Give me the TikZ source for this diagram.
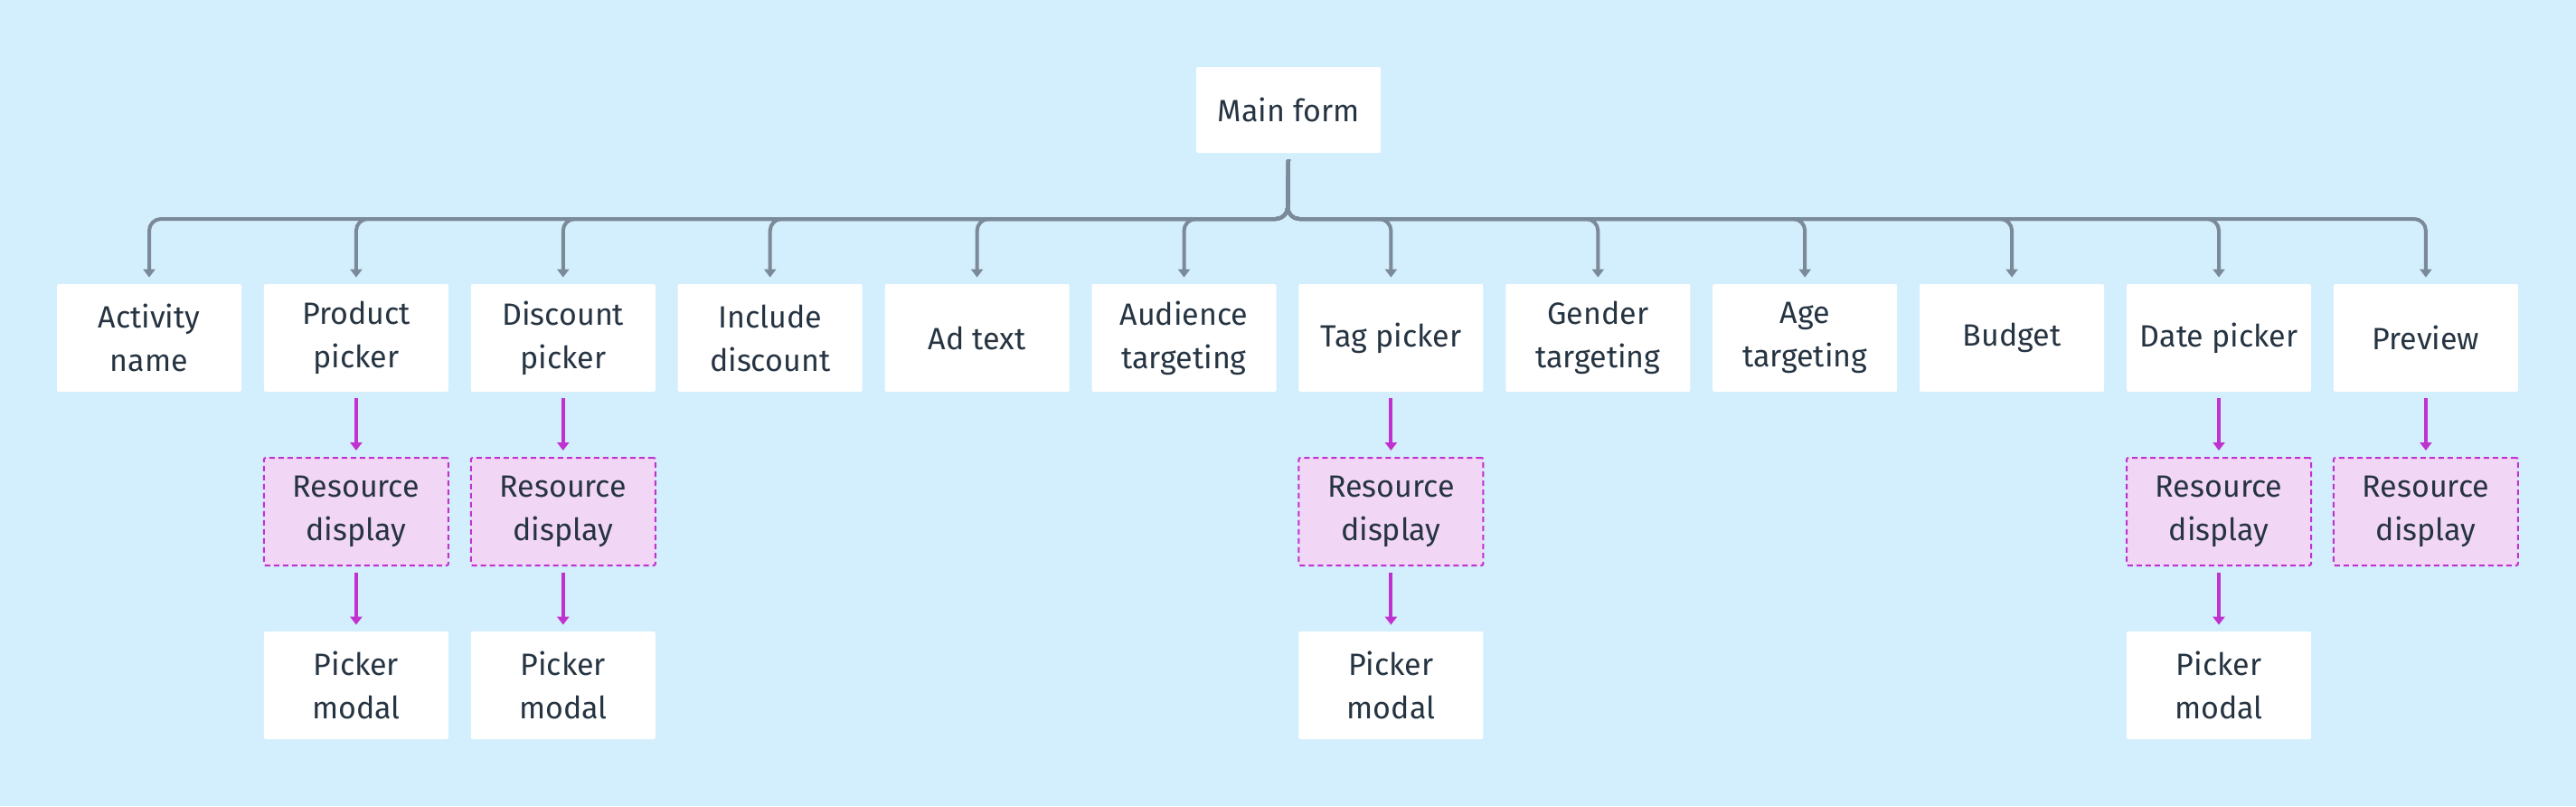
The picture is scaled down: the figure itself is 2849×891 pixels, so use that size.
\documentclass[tikz,border=0pt]{standalone}
\usepackage{fontspec}
\setmainfont{Fira Sans}
\usetikzlibrary{arrows.meta}
\definecolor{bgblue}{RGB}{211,238,252}
\definecolor{linegray}{RGB}{123,138,153}
\definecolor{resmagenta}{RGB}{192,50,208}
\definecolor{resfill}{RGB}{242,214,245}
\definecolor{textdark}{RGB}{38,52,66}
\tikzstyle{block} = [rectangle, fill=white, rounded corners=1pt, text=textdark,
    align=center, minimum width=102pt, minimum height=59.5pt, inner sep=0pt,
    font=\fontsize{17}{24}\selectfont]
\tikzstyle{resblock} = [block, fill=resfill, draw=resmagenta, line width=1pt,
    dash pattern=on 3pt off 2pt]
\tikzstyle{line} = [draw=linegray, line width=2pt, rounded corners=6.5pt,
    -{Triangle[width=6.5pt,length=4.5pt]}, shorten >=3.5pt]
\tikzstyle{resline} = [draw=resmagenta, line width=2pt,
    -{Triangle[width=6.5pt,length=4.5pt]}, shorten >=3.5pt, shorten <=3.5pt]
\begin{document}
\begin{tikzpicture}[x=0.5pt, y=-0.5pt, node distance=114.45pt]
\fill[bgblue] (0,0) rectangle (2849,891);
\useasboundingbox (0,0) rectangle (2849,891);
    % Place nodes
\node[block, minimum height=47.5pt] (main) at (1425,121.5) {Main form};
\node[block] (act) at (165,373.5) {Activity\\name};
\node[block, right of=act] (prod) {Product\\picker};
\node[block, right of=prod] (disc) {Discount\\picker};
\node[block, right of=disc] (incl) {Include\\discount};
\node[block, right of=incl] (adtext) {Ad text};
\node[block, right of=adtext] (aud) {Audience\\targeting};
\node[block, right of=aud] (tag) {Tag picker};
\node[block, right of=tag] (gender) {Gender\\targeting};
\node[block, right of=gender] (age) {Age\\targeting};
\node[block, right of=age] (budget) {Budget};
\node[block, right of=budget] (date) {Date picker};
\node[block, right of=date] (prev) {Preview};

\node[resblock, below of=prod, node distance=96pt] (prodres) {Resource\\display};
\node[resblock, below of=disc, node distance=96pt] (discres) {Resource\\display};
\node[resblock, below of=tag, node distance=96pt] (tagres) {Resource\\display};
\node[resblock, below of=date, node distance=96pt] (dateres) {Resource\\display};
\node[resblock, below of=prev, node distance=96pt] (prevres) {Resource\\display};

\node[block, below of=prodres, node distance=96pt] (prodmod) {Picker\\modal};
\node[block, below of=discres, node distance=96pt] (discmod) {Picker\\modal};
\node[block, below of=tagres, node distance=96pt] (tagmod) {Picker\\modal};
\node[block, below of=dateres, node distance=96pt] (datemod) {Picker\\modal};

\coordinate (trunk) at ([yshift=-3.5pt]main.south);
\coordinate (bus) at (1424,242);

    % Draw edges
\path [line] (trunk) -- (bus) -| (act);
\path [line] (trunk) -- (bus) -| (prod);
\path [line] (trunk) -- (bus) -| (disc);
\path [line] (trunk) -- (bus) -| (incl);
\path [line] (trunk) -- (bus) -| (adtext);
\path [line] (trunk) -- (bus) -| (aud);
\path [line] (trunk) -- (bus) -| (tag);
\path [line] (trunk) -- (bus) -| (gender);
\path [line] (trunk) -- (bus) -| (age);
\path [line] (trunk) -- (bus) -| (budget);
\path [line] (trunk) -- (bus) -| (date);
\path [line] (trunk) -- (bus) -| (prev);

\path [resline] (prod) -- (prodres);
\path [resline] (disc) -- (discres);
\path [resline] (tag) -- (tagres);
\path [resline] (date) -- (dateres);
\path [resline] (prev) -- (prevres);

\path [resline] (prodres) -- (prodmod);
\path [resline] (discres) -- (discmod);
\path [resline] (tagres) -- (tagmod);
\path [resline] (dateres) -- (datemod);

\end{tikzpicture}
\end{document}
